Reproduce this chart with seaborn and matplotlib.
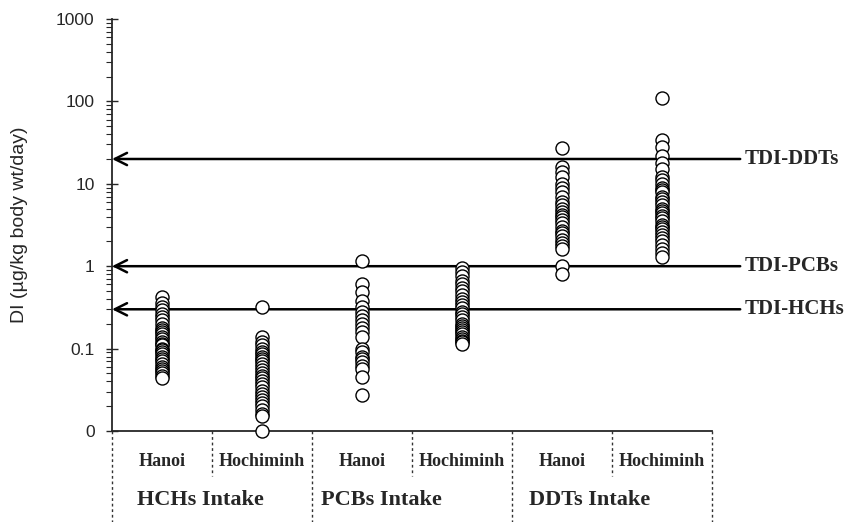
import numpy as np
import pandas as pd
import matplotlib
matplotlib.use("Agg")
import matplotlib.pyplot as plt
import matplotlib.ticker as mticker
import matplotlib.transforms as mtransforms
import seaborn as sns

# ---------------- data ----------------
cities = ["Hanoi", "Hochiminh"]
groups = ["HCHs Intake", "PCBs Intake", "DDTs Intake"]

hch_hanoi = [0.42, 0.36, 0.32, 0.29, 0.26, 0.24, 0.22, 0.2, 0.18, 0.17, 0.16, 0.15,
             0.14, 0.13, 0.12, 0.115, 0.11, 0.1, 0.095, 0.09, 0.085, 0.08, 0.075,
             0.07, 0.065, 0.06, 0.057, 0.053, 0.05, 0.047, 0.044]
hch_hcm = [0.32, 0.14, 0.12, 0.11, 0.1, 0.09, 0.085, 0.08, 0.075, 0.07, 0.065, 0.06,
           0.055, 0.05, 0.047, 0.044, 0.04, 0.037, 0.034, 0.031, 0.028, 0.026, 0.024,
           0.022, 0.02, 0.018, 0.016, 0.015, 0.01]
pcb_hanoi = [1.15, 0.6, 0.48, 0.38, 0.32, 0.28, 0.25, 0.22, 0.2, 0.18, 0.16, 0.14,
             0.1, 0.09, 0.08, 0.075, 0.068, 0.062, 0.056, 0.045, 0.027]
pcb_hcm = [0.95, 0.85, 0.75, 0.66, 0.6, 0.55, 0.5, 0.45, 0.4, 0.37, 0.34, 0.31, 0.28,
           0.26, 0.24, 0.22, 0.2, 0.19, 0.18, 0.17, 0.16, 0.15, 0.14, 0.13, 0.125,
           0.12, 0.115]
ddt_hanoi = [27, 16, 14, 12, 10, 9, 8, 7, 6, 5.5, 5, 4.5, 4.2, 3.9, 3.6, 3.3, 3, 2.7,
             2.5, 2.3, 2.1, 1.9, 1.75, 1.6, 1.0, 0.8]
ddt_hcm = [110, 34, 28, 22, 18, 15, 12, 11, 10, 9, 8.5, 8, 7, 6.5, 6, 5.5, 5, 4.7,
           4.4, 4.1, 3.8, 3.5, 3.2, 3, 2.8, 2.6, 2.4, 2.2, 2, 1.8, 1.6, 1.45, 1.3]

tdi_names = ["TDI-DDTs", "TDI-PCBs", "TDI-HCHs"]
tdi_values = [20, 1, 0.3]

ytick_values = [0.01, 0.1, 1, 10, 100, 1000]
ytick_labels = ["0", "0.1", "1", "10", "100", "1000"]

# ---------------- table ----------------
series = [hch_hanoi, hch_hcm, pcb_hanoi, pcb_hcm, ddt_hanoi, ddt_hcm]
cat_order = [f"{g}|{c}" for g in groups for c in cities]
rows = []
for cat, vals in zip(cat_order, series):
    for v in vals:
        rows.append({"cat": cat, "val": v})
df = pd.DataFrame(rows)

# ---------------- figure ----------------
sns.set_style("white")
plt.rcParams["font.family"] = ["Liberation Sans", "DejaVu Sans"]
SERIF = ["Liberation Serif", "DejaVu Serif"]

fig = plt.figure(figsize=(8.57, 5.22), dpi=100)
W, H = 857, 522
ax_l, ax_r, ax_t, ax_b = 112, 712, 19, 431
ax = fig.add_axes([ax_l / W, 1 - ax_b / H, (ax_r - ax_l) / W, (ax_b - ax_t) / H])

ax.set_yscale("log")
sns.stripplot(data=df, x="cat", y="val", order=cat_order, jitter=False,
              color="white", edgecolor="black", linewidth=1.0, size=9.4,
              ax=ax, zorder=3)
for c in ax.collections:
    c.set_clip_on(False)

ax.set_xlim(-0.5, 5.5)
ax.set_ylim(0.01, 1000)

# spines
for s in ["top", "right"]:
    ax.spines[s].set_visible(False)
ax.spines["left"].set_linewidth(1.3)
ax.spines["bottom"].set_linewidth(1.3)

# y ticks
ax.yaxis.set_major_locator(mticker.FixedLocator(ytick_values))
ax.yaxis.set_major_formatter(mticker.FixedFormatter(ytick_labels))
ax.yaxis.set_minor_locator(mticker.LogLocator(base=10, subs=np.arange(2, 10), numticks=20))
ax.yaxis.set_minor_formatter(mticker.NullFormatter())
ax.tick_params(axis="y", which="major", direction="inout", length=9, width=1.0,
               labelsize=12.5, pad=8, left=True)
ax.tick_params(axis="y", which="minor", direction="out", length=4, width=0.8, left=True)
ax.tick_params(axis="x", which="both", bottom=False, labelbottom=False)
ax.set_xlabel("")
ax.set_ylabel("DI (µg/kg body wt/day)", fontsize=14)
ax.yaxis.set_label_coords(-0.14, 0.5)

trans = mtransforms.blended_transform_factory(ax.transAxes, ax.transData)
# TDI lines with arrows
for name, v in zip(tdi_names, tdi_values):
    ax.annotate("", xy=(0.0, v), xytext=(1.047, v), xycoords=trans, textcoords=trans,
                arrowprops=dict(arrowstyle="->", lw=1.8, color="black",
                                mutation_scale=22, shrinkA=0, shrinkB=0),
                zorder=2)
    ax.text(1.055, v, name, transform=trans, ha="left", va="center",
            fontsize=15, fontweight="bold", family=SERIF)

# category separators and labels below axis
transx = mtransforms.blended_transform_factory(ax.transData, ax.transAxes)
axh = ax_b - ax_t
for xb in [-0.5, 1.5, 3.5, 5.5]:
    ax.plot([xb, xb], [0, -(H - ax_b) / axh], transform=transx, clip_on=False,
            color="#333333", lw=1.0, ls=(0, (2, 2)))
for xb in [0.5, 2.5, 4.5]:
    ax.plot([xb, xb], [0, -(476 - ax_b) / axh], transform=transx, clip_on=False,
            color="#333333", lw=1.0, ls=(0, (2, 2)))

for i, cat in enumerate(cat_order):
    city = cat.split("|")[1]
    ax.text(i, -(462 - ax_b) / axh, city, transform=transx, ha="center", va="center",
            fontsize=13, fontweight="bold", family=SERIF)
group_centers = [0.38, 2.19, 4.28]
for g, xc in zip(groups, group_centers):
    ax.text(xc, -(500 - ax_b) / axh, g, transform=transx, ha="center",
            va="center", fontsize=16, fontweight="bold", family=SERIF)

fig.savefig("out.png", dpi=100)
